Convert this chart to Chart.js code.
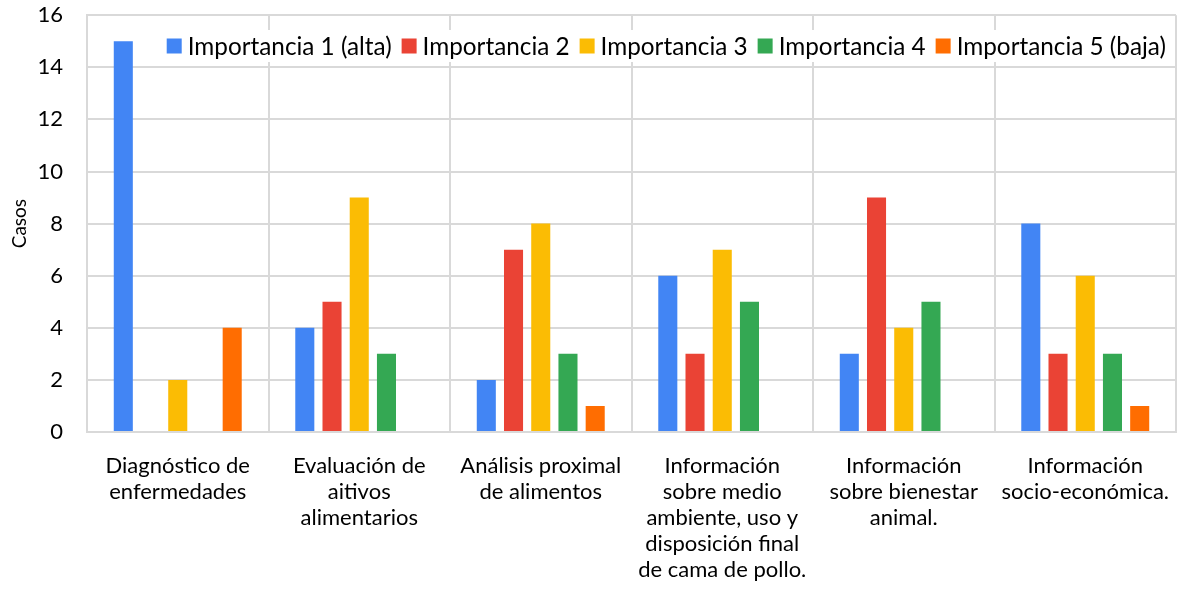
<!DOCTYPE html>
<html><head><meta charset="utf-8">
<script src="https://cdn.jsdelivr.net/npm/chart.js@4"></script>
<style>html,body{margin:0;padding:0;background:#fff}#wrap{width:1179px;height:601px}</style>
</head><body><div id="wrap"><canvas id="c" width="1179" height="601"></canvas></div>
<script>
const categories = [
  ["Diagnóstico de","enfermedades"],
  ["Evaluación de","aitivos","alimentarios"],
  ["Análisis proximal","de alimentos"],
  ["Información","sobre medio","ambiente, uso y","disposición final","de cama de pollo."],
  ["Información","sobre bienestar","animal."],
  ["Información","socio-económica."]
];
const seriesNames = ["Importancia 1 (alta)","Importancia 2","Importancia 3","Importancia 4","Importancia 5 (baja)"];
const importancia1 = [15, 4, 2, 6, 3, 8];
const importancia2 = [0, 5, 7, 3, 9, 3];
const importancia3 = [2, 9, 8, 7, 4, 6];
const importancia4 = [0, 3, 3, 5, 5, 3];
const importancia5 = [4, 0, 1, 0, 0, 1];
const seriesColors = ["#4285F4","#EA4335","#FBBC04","#34A853","#FF6D01"];
const yTicks = [0,2,4,6,8,10,12,14,16];

const values = [importancia1, importancia2, importancia3, importancia4, importancia5];
const FONT = "Lato, 'Open Sans', sans-serif";

const customLegend = {
  id: 'customLegend',
  afterDatasetsDraw(chart) {
    const ctx = chart.ctx;
    const ds = chart.data.datasets;
    ctx.save();
    ctx.font = "24.3px " + FONT;
    const box = 15, gapBT = 6, gapItem = 10;
    const widths = ds.map(d => ctx.measureText(d.label).width);
    let total = widths.reduce((a, w) => a + box + gapBT + w, 0) + gapItem * (ds.length - 1);
    const right = 1166;
    let x = right - total;
    const yc = 46;
    ctx.fillStyle = '#fff';
    ctx.fillRect(x - 6, yc - 16, total + 12, 32);
    ctx.textBaseline = 'middle';
    ds.forEach((d, i) => {
      ctx.fillStyle = d.backgroundColor;
      ctx.fillRect(x, yc - box / 2, box, box);
      ctx.fillStyle = '#000';
      ctx.fillText(d.label, x + box + gapBT, yc + 1);
      x += box + gapBT + widths[i] + gapItem;
    });
    ctx.restore();
  }
};

new Chart(document.getElementById('c'), {
  type: 'bar',
  data: {
    labels: categories,
    datasets: values.map((v, i) => ({
      label: seriesNames[i],
      data: v,
      backgroundColor: seriesColors[i],
      borderWidth: 0,
      categoryPercentage: 0.75,
      barPercentage: 0.7
    }))
  },
  plugins: [customLegend],
  options: {
    responsive: false,
    animation: false,
    layout: { padding: { top: 4, right: 3, left: 0, bottom: 0 } },
    plugins: {
      tooltip: { enabled: false },
      legend: { display: false }
    },
    scales: {
      x: {
        grid: { color: '#d9d9d9', lineWidth: 2, drawTicks: true, tickLength: 20, tickColor: 'rgba(0,0,0,0)', offset: true },
        border: { color: '#d9d9d9', width: 2 },
        ticks: { color: '#000', font: { family: FONT, size: 22, lineHeight: 1.18 }, padding: 1, maxRotation: 0, autoSkip: false },
        afterFit(s) { s.height = 169; }
      },
      y: {
        min: 0, max: 16,
        afterBuildTicks(s) { s.ticks = yTicks.map(v => ({ value: v })); },
        grid: { color: '#d9d9d9', lineWidth: 2, drawTicks: true, tickLength: 22, tickColor: 'rgba(0,0,0,0)' },
        border: { color: '#d9d9d9', width: 2 },
        ticks: { color: '#000', font: { family: FONT, size: 22 }, padding: 2 },
        title: { display: true, text: 'Casos', color: '#000', font: { family: FONT, size: 19 }, padding: { top: 8, bottom: 6 } },
        afterFit(s) { s.width = 87; }
      }
    }
  }
});
</script>
</body></html>
